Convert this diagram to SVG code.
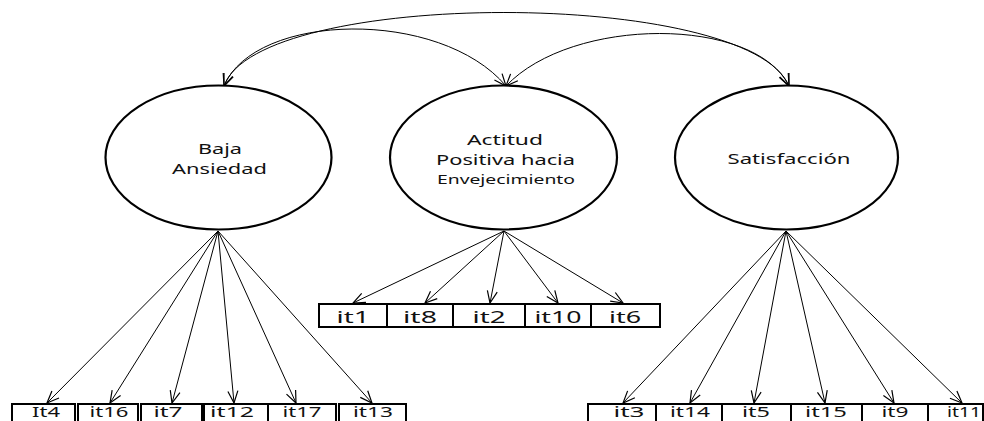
<svg xmlns="http://www.w3.org/2000/svg" width="984" height="421" viewBox="0 0 984 421">
<defs>
<marker id="arr" markerUnits="userSpaceOnUse" markerWidth="14" markerHeight="12" viewBox="0 0 14 12" refX="13" refY="6" orient="auto-start-reverse">
<path d="M1,1 L13,6 L1,11" fill="none" stroke="#000" stroke-width="1.2"/>
</marker>
</defs>
<style>
.lat{fill:#fff;stroke:#000;stroke-width:2.2}
.box{fill:#fff;stroke:#000;stroke-width:2}
.t{font-family:"Noto Sans","Open Sans",sans-serif;fill:#111;text-anchor:middle}
.lt{font-size:15px}
.st{font-size:13px}
.bt{font-size:17px}
.bb{font-size:15px}
.ln{fill:none;stroke:#000;stroke-width:1;marker-end:url(#arr)}
.cv{fill:none;stroke:#000;stroke-width:1;marker-start:url(#arr);marker-end:url(#arr)}
</style>
<rect width="984" height="421" fill="#fff"/>
<g id="connectors">
<path class="cv" d="M224,86 C258,-12 748,-12 789,86"/>
<path class="cv" d="M224,86 C255,12 440,8 506,86"/>
<path class="cv" d="M506,86 C572,16 755,16 789,86"/>
<line class="ln" x1="218" y1="231" x2="47" y2="403"/>
<line class="ln" x1="218" y1="231" x2="110" y2="403"/>
<line class="ln" x1="218" y1="231" x2="172" y2="403"/>
<line class="ln" x1="218" y1="231" x2="234" y2="403"/>
<line class="ln" x1="218" y1="231" x2="296" y2="403"/>
<line class="ln" x1="218" y1="231" x2="372" y2="403"/>
<line class="ln" x1="504" y1="231" x2="353" y2="303"/>
<line class="ln" x1="504" y1="231" x2="425" y2="303"/>
<line class="ln" x1="504" y1="231" x2="490" y2="303"/>
<line class="ln" x1="504" y1="231" x2="558" y2="303"/>
<line class="ln" x1="504" y1="231" x2="623" y2="303"/>
<line class="ln" x1="786" y1="231" x2="623" y2="403"/>
<line class="ln" x1="786" y1="231" x2="690" y2="403"/>
<line class="ln" x1="786" y1="231" x2="754" y2="403"/>
<line class="ln" x1="786" y1="231" x2="825" y2="403"/>
<line class="ln" x1="786" y1="231" x2="894" y2="403"/>
<line class="ln" x1="786" y1="231" x2="962" y2="403"/>
</g>
<g id="baja">
<ellipse class="lat" cx="218.5" cy="157.5" rx="113" ry="72"/>
<text class="t lt" x="220" y="154" textLength="44" lengthAdjust="spacingAndGlyphs">Baja</text>
<text class="t lt" x="219.5" y="174" textLength="95" lengthAdjust="spacingAndGlyphs">Ansiedad</text>
</g>
<g id="actitud">
<ellipse class="lat" cx="503.5" cy="157.5" rx="113.5" ry="72"/>
<text class="t lt" x="505" y="145" textLength="76" lengthAdjust="spacingAndGlyphs">Actitud</text>
<text class="t lt" x="505.5" y="165" textLength="139" lengthAdjust="spacingAndGlyphs">Positiva hacia</text>
<text class="t st" x="506" y="184" textLength="138" lengthAdjust="spacingAndGlyphs">Envejecimiento</text>
</g>
<g id="satisfaccion">
<ellipse class="lat" cx="786.5" cy="157.5" rx="111.5" ry="72"/>
<text class="t lt" x="789" y="164" textLength="123" lengthAdjust="spacingAndGlyphs">Satisfacción</text>
</g>
<g id="it1"><rect class="box" x="319" y="304" width="68" height="23"/><text class="t bt" x="353" y="323" textLength="33" lengthAdjust="spacingAndGlyphs">it1</text></g>
<g id="it8"><rect class="box" x="387" y="304" width="66" height="23"/><text class="t bt" x="420" y="323" textLength="34" lengthAdjust="spacingAndGlyphs">it8</text></g>
<g id="it2"><rect class="box" x="453" y="304" width="72" height="23"/><text class="t bt" x="489" y="323" textLength="33" lengthAdjust="spacingAndGlyphs">it2</text></g>
<g id="it10"><rect class="box" x="525" y="304" width="66" height="23"/><text class="t bt" x="558" y="323" textLength="47" lengthAdjust="spacingAndGlyphs">it10</text></g>
<g id="it6"><rect class="box" x="591" y="304" width="69" height="23"/><text class="t bt" x="625" y="323" textLength="32" lengthAdjust="spacingAndGlyphs">it6</text></g>
<g id="It4"><rect class="box" x="12" y="404" width="63" height="30"/><text class="t bb" x="46" y="416.5" textLength="28" lengthAdjust="spacingAndGlyphs">It4</text></g>
<g id="it16"><rect class="box" x="78" y="404" width="60" height="30"/><text class="t bb" x="109" y="416.5" textLength="39" lengthAdjust="spacingAndGlyphs">it16</text></g>
<g id="it7"><rect class="box" x="141" y="404" width="61" height="30"/><text class="t bb" x="168" y="416.5" textLength="29" lengthAdjust="spacingAndGlyphs">it7</text></g>
<g id="it12"><rect class="box" x="204" y="404" width="64" height="30"/><text class="t bb" x="232" y="416.5" textLength="44" lengthAdjust="spacingAndGlyphs">it12</text></g>
<g id="it17"><rect class="box" x="268" y="404" width="68" height="30"/><text class="t bb" x="302" y="416.5" textLength="39" lengthAdjust="spacingAndGlyphs">it17</text></g>
<g id="it13"><rect class="box" x="339" y="404" width="67" height="30"/><text class="t bb" x="373" y="416.5" textLength="40" lengthAdjust="spacingAndGlyphs">it13</text></g>
<g id="it3"><rect class="box" x="588" y="404" width="68" height="30"/><text class="t bb" x="629" y="416.5" textLength="31" lengthAdjust="spacingAndGlyphs">it3</text></g>
<g id="it14"><rect class="box" x="656" y="404" width="66" height="30"/><text class="t bb" x="690" y="416.5" textLength="40" lengthAdjust="spacingAndGlyphs">it14</text></g>
<g id="it5"><rect class="box" x="722" y="404" width="69" height="30"/><text class="t bb" x="756" y="416.5" textLength="28" lengthAdjust="spacingAndGlyphs">it5</text></g>
<g id="it15"><rect class="box" x="791" y="404" width="71" height="30"/><text class="t bb" x="826" y="416.5" textLength="42" lengthAdjust="spacingAndGlyphs">it15</text></g>
<g id="it9"><rect class="box" x="862" y="404" width="66" height="30"/><text class="t bb" x="895" y="416.5" textLength="27" lengthAdjust="spacingAndGlyphs">it9</text></g>
<g id="it11"><rect class="box" x="928" y="404" width="55" height="30"/><text class="t bb" x="964" y="416.5" textLength="34" lengthAdjust="spacingAndGlyphs">it11</text></g>
</svg>
